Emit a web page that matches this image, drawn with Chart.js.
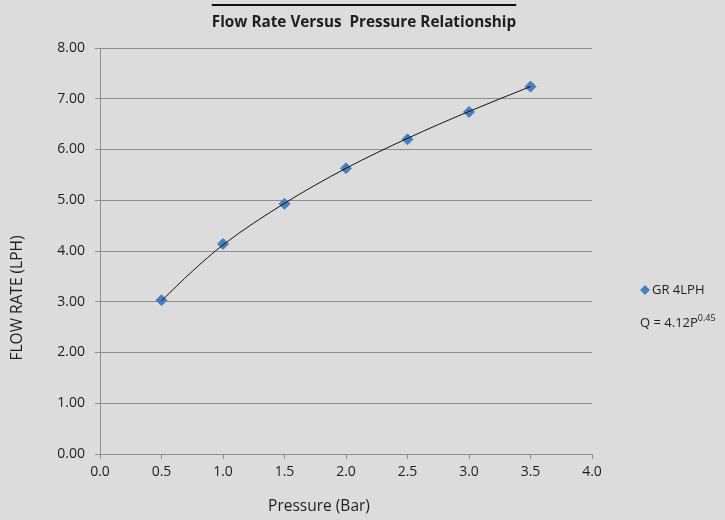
<!DOCTYPE html>
<html>
<head>
<meta charset="utf-8">
<script src="https://cdn.jsdelivr.net/npm/chart.js@4"></script>
<style>
  html, body { margin: 0; padding: 0; background: #dcdcdc; }
  #wrap { width: 725px; height: 520px; position: relative; }
</style>
</head>
<body>
<div id="wrap"><canvas id="chart" width="725" height="520"></canvas></div>
<script>
// ── data ──
const pressure = [0.5, 1.0, 1.5, 2.0, 2.5, 3.0, 3.5];
const flowRate = [3.03, 4.14, 4.93, 5.63, 6.20, 6.74, 7.24];
// trendline (a bit denser near the steep start)
const trendPressure = [0.5, 0.75, 1.0, 1.5, 2.0, 2.5, 3.0, 3.5];
const trendFlow = [3.02, 3.60, 4.12, 4.94, 5.63, 6.22, 6.75, 7.24];
const xTicks = [0.0, 0.5, 1.0, 1.5, 2.0, 2.5, 3.0, 3.5, 4.0];
const yTicks = [0, 1, 2, 3, 4, 5, 6, 7, 8];

const seriesName = 'GR 4LPH';
const fitLabel = 'Q = 4.12P';
const fitExponent = '0.45';
const titleText = 'Flow Rate Versus  Pressure Relationship';

const FONT = "'Open Sans', Lato, sans-serif";
const TEXT = '#1e1e1e';
const BLUE = '#4a7ebb';
const GRID = '#8e8e8e';

const points = pressure.map((p, i) => ({ x: p, y: flowRate[i] }));
const trend = trendPressure.map((p, i) => ({ x: p, y: trendFlow[i] }));

// title, axis titles and legend drawn by hand (excel-ish placement)
const decorations = {
  id: 'decorations',
  afterDraw(chart) {
    const ctx = chart.ctx;
    ctx.save();
    ctx.fillStyle = TEXT;

    // title with the rule above it
    ctx.font = `bold 15.3px ${FONT}`;
    ctx.textAlign = 'center';
    ctx.textBaseline = 'middle';
    ctx.fillText(titleText, 364, 23);
    const w = ctx.measureText(titleText).width;
    ctx.strokeStyle = '#111';
    ctx.lineWidth = 2;
    ctx.beginPath();
    ctx.moveTo(364 - w / 2, 5);
    ctx.lineTo(364 + w / 2, 5);
    ctx.stroke();

    // axis titles
    ctx.font = `15.5px ${FONT}`;
    ctx.fillText('Pressure (Bar)', 319, 507);
    ctx.save();
    ctx.translate(18, 298);
    ctx.rotate(-Math.PI / 2);
    ctx.fillText('FLOW RATE (LPH)', 0, 0);
    ctx.restore();

    // legend
    ctx.fillStyle = BLUE;
    ctx.beginPath();
    ctx.moveTo(645, 285);
    ctx.lineTo(650, 290);
    ctx.lineTo(645, 295);
    ctx.lineTo(640, 290);
    ctx.closePath();
    ctx.fill();
    ctx.fillStyle = TEXT;
    ctx.textAlign = 'left';
    ctx.font = `13px ${FONT}`;
    ctx.fillText(seriesName, 652, 290);
    ctx.fillText(fitLabel, 640, 323);
    const fw = ctx.measureText(fitLabel).width;
    ctx.font = `9px ${FONT}`;
    ctx.fillText(fitExponent, 640 + fw, 318);
    ctx.restore();
  }
};

new Chart(document.getElementById('chart').getContext('2d'), {
  type: 'scatter',
  data: {
    datasets: [
      {
        label: 'trend',
        type: 'line',
        data: trend,
        borderColor: '#111',
        borderWidth: 1,
        pointRadius: 0,
        cubicInterpolationMode: 'monotone',
        fill: false,
        order: 0,
      },
      {
        label: seriesName,
        data: points,
        pointStyle: 'rectRot',
        pointRadius: 5.5,
        pointBackgroundColor: BLUE,
        pointBorderColor: BLUE,
        pointBorderWidth: 1,
        order: 1,
      },
    ],
  },
  plugins: [decorations],
  options: {
    responsive: false,
    animation: false,
    devicePixelRatio: 1,
    layout: { padding: { left: 0, top: 48, right: 133, bottom: 0 } },
    plugins: {
      legend: { display: false },
      title: { display: false },
      tooltip: { enabled: false },
    },
    scales: {
      x: {
        type: 'linear',
        min: 0,
        max: 4,
        afterBuildTicks: (s) => { s.ticks = xTicks.map((v) => ({ value: v })); },
        afterFit: (s) => { s.height = 66; },
        grid: { drawOnChartArea: false, color: GRID, tickLength: 5 },
        border: { color: GRID, width: 1 },
        ticks: {
          color: TEXT,
          padding: 5,
          maxRotation: 0,
          font: { family: FONT, size: 14 },
          callback: (v) => Number(v).toFixed(1),
        },
      },
      y: {
        min: 0,
        max: 8,
        afterBuildTicks: (s) => { s.ticks = yTicks.map((v) => ({ value: v })); },
        afterFit: (s) => { s.width = 100; },
        grid: { color: GRID, tickLength: 5 },
        border: { color: GRID, width: 1 },
        ticks: {
          color: TEXT,
          padding: 10,
          font: { family: FONT, size: 14 },
          callback: (v) => Number(v).toFixed(2),
        },
      },
    },
  },
});
</script>
</body>
</html>
